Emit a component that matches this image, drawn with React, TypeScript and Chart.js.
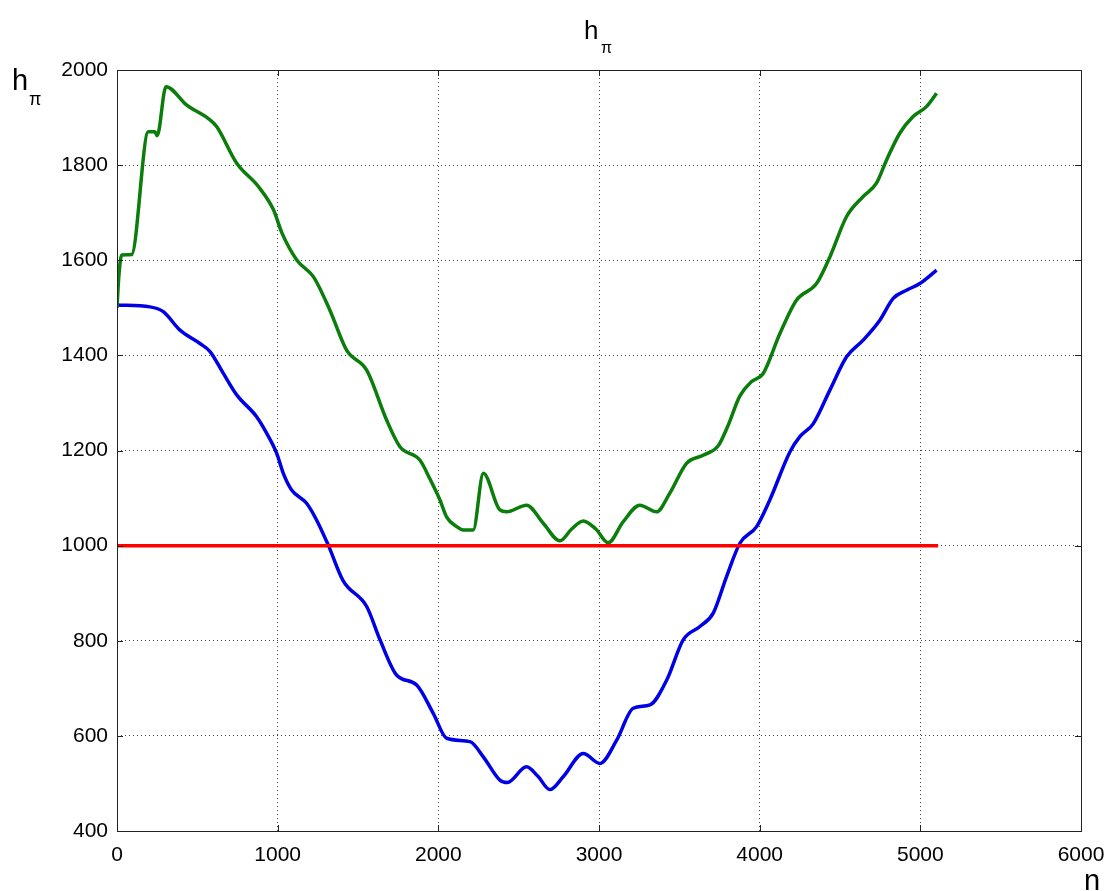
import React, { useEffect, useRef } from "react";
import { Chart, registerables } from "chart.js";

Chart.register(...registerables);

// ---- data ----
const greenN = [0, 10, 29, 91, 195, 236, 250, 305, 434, 568, 620, 745, 880, 974, 1027, 1120, 1223, 1325, 1429, 1554, 1678, 1761, 1885, 1948, 2010, 2052, 2114, 2155, 2217, 2280, 2383, 2425, 2549, 2653, 2757, 2830, 2902, 2980, 3057, 3150, 3254, 3358, 3440, 3545, 3648, 3742, 3800, 3877, 3950, 4022, 4126, 4229, 4354, 4437, 4541, 4644, 4727, 4790, 4872, 4955, 5038, 5101];
const greenH = [1500, 1560, 1611, 1612, 1870, 1870, 1862, 1965, 1926, 1898, 1881, 1804, 1755, 1706, 1657, 1600, 1565, 1495, 1411, 1369, 1264, 1208, 1180, 1140, 1096, 1060, 1040, 1033, 1033, 1152, 1075, 1071, 1085, 1047, 1010, 1035, 1052, 1035, 1006, 1050, 1085, 1071, 1110, 1173, 1190, 1210, 1250, 1315, 1345, 1362, 1446, 1516, 1551, 1607, 1692, 1734, 1762, 1811, 1867, 1902, 1923, 1951];

const blueN = [0, 205, 288, 392, 516, 579, 662, 745, 869, 932, 994, 1035, 1087, 1180, 1242, 1315, 1408, 1554, 1637, 1740, 1865, 1969, 2052, 2197, 2280, 2383, 2430, 2549, 2620, 2694, 2777, 2902, 3006, 3110, 3213, 3317, 3421, 3524, 3628, 3711, 3794, 3877, 3981, 4063, 4188, 4250, 4333, 4437, 4541, 4644, 4748, 4831, 4914, 4997, 5101];
const blueH = [1506, 1502, 1492, 1453, 1425, 1408, 1362, 1317, 1271, 1236, 1194, 1152, 1117, 1089, 1054, 1001, 926, 872, 802, 728, 707, 647, 595, 588, 556, 507, 502, 535, 515, 487, 514, 563, 542, 591, 658, 665, 717, 802, 830, 858, 935, 1005, 1040, 1096, 1197, 1229, 1256, 1327, 1397, 1432, 1474, 1520, 1537, 1551, 1579];

const redN = [0, 5111];
const redH = [1000, 1000];

const xTicks = [0, 1000, 2000, 3000, 4000, 5000, 6000];
const yTicks = [400, 600, 800, 1000, 1200, 1400, 1600, 1800, 2000];

const titleText = "h";
const titleSub = "π";
const yLabelText = "h";
const yLabelSub = "π";
const xLabelText = "n";

const toPoints = (xs: number[], ys: number[]) => xs.map((x, i) => ({ x, y: ys[i] }));

const FONT = "'Liberation Sans', Arial, sans-serif";

const framePlugin = {
  id: "matlabFrame",
  afterDraw(chart: any) {
    const { ctx, chartArea: a, scales } = chart;
    ctx.save();
    ctx.strokeStyle = "#222";
    ctx.lineWidth = 1;
    ctx.setLineDash([]);
    ctx.strokeRect(a.left + 0.5, a.top + 0.5, a.right - a.left, a.bottom - a.top);
    const tl = 6;
    ctx.beginPath();
    for (const v of xTicks) {
      const px = Math.round(scales.x.getPixelForValue(v)) + 0.5;
      ctx.moveTo(px, a.bottom); ctx.lineTo(px, a.bottom - tl);
      ctx.moveTo(px, a.top); ctx.lineTo(px, a.top + tl);
    }
    for (const v of yTicks) {
      const py = Math.round(scales.y.getPixelForValue(v)) + 0.5;
      ctx.moveTo(a.left, py); ctx.lineTo(a.left + tl, py);
      ctx.moveTo(a.right, py); ctx.lineTo(a.right - tl, py);
    }
    ctx.stroke();

    ctx.fillStyle = "#000";
    ctx.textBaseline = "alphabetic";
    ctx.textAlign = "left";
    // title
    ctx.font = `26px ${FONT}`;
    ctx.fillText(titleText, 584, 39);
    ctx.font = `16px ${FONT}`;
    ctx.fillText(titleSub, 601, 53);
    // y label
    ctx.font = `29px ${FONT}`;
    ctx.fillText(yLabelText, 12, 90);
    ctx.font = `18px ${FONT}`;
    ctx.fillText(yLabelSub, 29, 105);
    // x label
    ctx.font = `29px ${FONT}`;
    ctx.fillText(xLabelText, 1084, 890);
    ctx.restore();
  },
};

export default function App() {
  const ref = useRef<HTMLCanvasElement | null>(null);

  useEffect(() => {
    document.body.style.margin = "0";
    const canvas = ref.current;
    if (!canvas) return;
    const chart = new Chart(canvas, {
      type: "line",
      data: {
        datasets: [
          {
            label: "red",
            data: toPoints(redN, redH),
            borderColor: "#ff0000",
            borderWidth: 3.5,
            pointRadius: 0,
            fill: false,
          },
          {
            label: "green",
            data: toPoints(greenN, greenH),
            borderColor: "#0a7d0a",
            borderWidth: 3.5,
            pointRadius: 0,
            fill: false,
            cubicInterpolationMode: "monotone",
          },
          {
            label: "blue",
            data: toPoints(blueN, blueH),
            borderColor: "#0000e6",
            borderWidth: 3.5,
            pointRadius: 0,
            fill: false,
            cubicInterpolationMode: "monotone",
          },
        ],
      },
      options: {
        animation: false,
        responsive: false,
        maintainAspectRatio: false,
        layout: { padding: { left: 0, right: 26, top: 70, bottom: 0 } },
        plugins: {
          legend: { display: false },
          tooltip: { enabled: false },
          title: { display: false },
        },
        scales: {
          x: {
            type: "linear",
            min: 0,
            max: 6000,
            afterBuildTicks: (s: any) => { s.ticks = xTicks.map((v) => ({ value: v })); },
            afterFit: (s: any) => { s.height = 60; s.paddingLeft = 0; s.paddingRight = 0; },
            grid: { color: "#444", drawTicks: false, lineWidth: 1 },
            border: { display: false, dash: [1, 3] },
            ticks: {
              color: "#000",
              padding: 12,
              font: { family: FONT, size: 21 },
              maxRotation: 0,
              callback: (v: any) => String(v),
            },
          },
          y: {
            type: "linear",
            min: 400,
            max: 2000,
            afterBuildTicks: (s: any) => { s.ticks = yTicks.map((v) => ({ value: v })); },
            afterFit: (s: any) => { s.width = 117; s.paddingTop = 0; s.paddingBottom = 0; },
            grid: { color: "#444", drawTicks: false, lineWidth: 1 },
            border: { display: false, dash: [1, 3] },
            ticks: {
              color: "#000",
              padding: 9,
              font: { family: FONT, size: 21 },
              callback: (v: any) => String(v),
            },
          },
        },
      },
      plugins: [framePlugin],
    });
    return () => chart.destroy();
  }, []);

  return (
    <div style={{ width: 1107, height: 891, background: "#fff" }}>
      <canvas ref={ref} width={1107} height={891} style={{ display: "block" }} />
    </div>
  );
}
